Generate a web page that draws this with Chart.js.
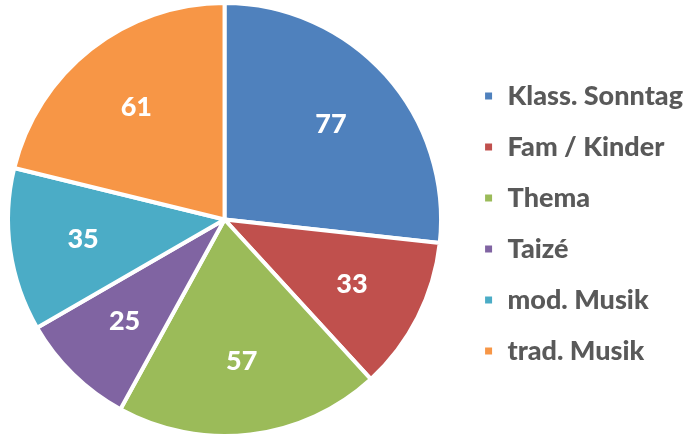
<!DOCTYPE html>
<html><head><meta charset="utf-8">
<script src="https://cdn.jsdelivr.net/npm/chart.js@4"></script>
<style>html,body{margin:0;padding:0;background:#fff;overflow:hidden}#wrap{width:686px;height:439px;position:relative;overflow:hidden}#c{position:absolute;left:-10px;top:0}</style>
</head><body><div id="wrap"><canvas id="c" width="703" height="439"></canvas></div>
<script>
const categories = ["Klass. Sonntag", "Fam / Kinder", "Thema", "Taizé", "mod. Musik", "trad. Musik"];
const values = [77, 33, 57, 25, 35, 61];
const colors = ["#4F81BD", "#C0504D", "#9BBB59", "#8064A2", "#4BACC6", "#F79646"];

const valueLabels = {
  id: 'valueLabels',
  afterDatasetsDraw(chart) {
    const ctx = chart.ctx;
    const meta = chart.getDatasetMeta(0);
    ctx.save();
    ctx.fillStyle = '#fff';
    ctx.font = '900 27px Lato';
    ctx.textAlign = 'center';
    ctx.textBaseline = 'middle';
    meta.data.forEach((arc, i) => {
      const p = arc.getProps(['x','y','startAngle','endAngle','outerRadius'], true);
      const mid = (p.startAngle + p.endAngle) / 2;
      const r = p.outerRadius * 0.66;
      ctx.fillText(String(chart.data.datasets[0].data[i]), p.x + Math.cos(mid) * r, p.y + Math.sin(mid) * r);
    });
    ctx.restore();
  }
};

new Chart(document.getElementById('c'), {
  type: 'pie',
  data: { labels: categories, datasets: [{ data: values, backgroundColor: colors, borderColor: '#fff', borderWidth: 4 }] },
  options: {
    responsive: false, animation: false,
    layout: { padding: { left: 0, right: 0, top: 1, bottom: 1 } },
    plugins: {
      tooltip: { enabled: false },
      legend: {
        position: 'right',
        title: { display: true, text: '', font: { size: 5 }, padding: 1 },
        labels: { boxWidth: 11, boxHeight: 11, padding: 24, color: '#595959', font: { family: 'Lato', size: 27, weight: '900' } }
      }
    }
  },
  plugins: [valueLabels]
});
</script></body></html>
